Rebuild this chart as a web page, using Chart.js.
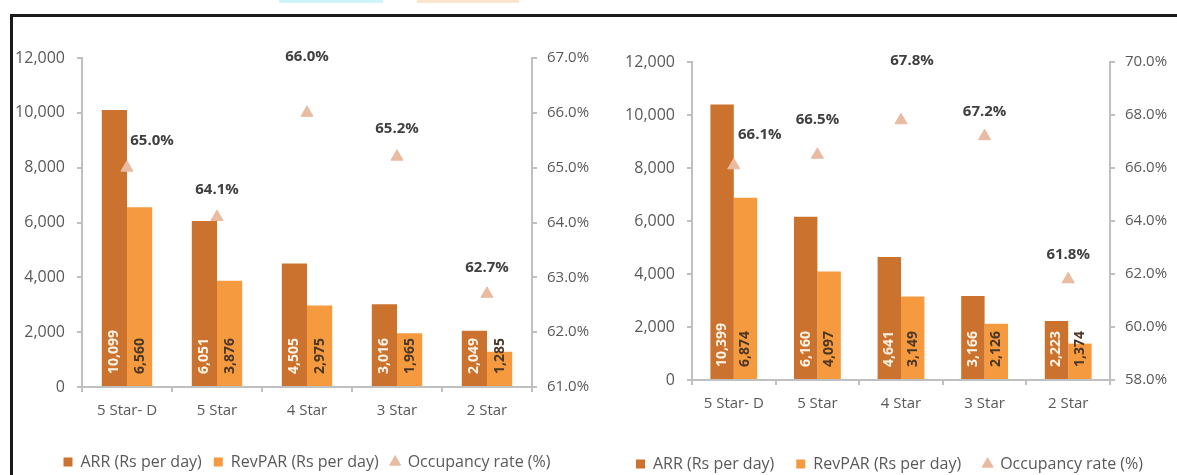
<!DOCTYPE html>
<html>
<head>
<meta charset="utf-8">
<script src="https://cdn.jsdelivr.net/npm/chart.js@4"></script>
<style>
  html, body { margin: 0; padding: 0; background: #fff; overflow: hidden; }
  body { width: 1177px; height: 475px; position: relative; }
  #frame { position: absolute; left: 10px; top: 14px; width: 1170px; height: 470px;
           border-top: 3px solid #1a1a1a; border-left: 3px solid #1a1a1a; }
  .strip { position: absolute; top: 0; height: 3px; }
  canvas { position: absolute; }
</style>
</head>
<body>
<div class="strip" style="left:279px;width:104px;background:#cff5fb"></div>
<div class="strip" style="left:417px;width:102px;background:#fde4cd"></div>
<div id="frame"></div>
<canvas id="left_chart" width="590" height="470" style="left:12px;top:18px"></canvas>
<canvas id="right_chart" width="575" height="470" style="left:602px;top:18px"></canvas>
<script>
// data
var categories = ['5 Star- D', '5 Star', '4 Star', '3 Star', '2 Star'];

var leftArr = [10099, 6051, 4505, 3016, 2049];
var leftRevpar = [6560, 3876, 2975, 1965, 1285];
var leftOcc = [65.0, 64.1, 66.0, 65.2, 62.7];

var rightArr = [10399, 6160, 4641, 3166, 2223];
var rightRevpar = [6874, 4097, 3149, 2126, 1374];
var rightOcc = [66.1, 66.5, 67.8, 67.2, 61.8];

var leftPctAxis = {min: 61, max: 67, step: 1};
var rightPctAxis = {min: 58, max: 70, step: 2};

var seriesNames = ['ARR (Rs per day)', 'RevPAR (Rs per day)', 'Occupancy rate (%)'];

Chart.defaults.font.family = "'Open Sans', sans-serif";
Chart.defaults.color = '#595959';

var arrColor = '#cb732e';
var revColor = '#f59a3f';
var occColor = '#e9bca2';
var axisColor = '#c0c0c0';

// value labels written upwards inside the bars, and % labels over the triangles
var labelPlugin = {
    id: 'labels',
    afterDatasetsDraw: function (chart, args, opts) {
        var ctx = chart.ctx;
        ctx.save();
        ctx.font = 'bold 14px "Open Sans", sans-serif';
        ctx.textBaseline = 'middle';
        ctx.textAlign = 'left';
        [0, 1].forEach(function (di) {
            var meta = chart.getDatasetMeta(di);
            var vals = chart.data.datasets[di].data;
            ctx.fillStyle = di === 0 ? '#fdf3e6' : '#4a3726';
            meta.data.forEach(function (el, i) {
                ctx.save();
                ctx.translate(el.x, el.base - 12);
                ctx.rotate(-Math.PI / 2);
                ctx.fillText(vals[i].toLocaleString('en-US'), 0, 0);
                ctx.restore();
            });
        });
        var occ = chart.getDatasetMeta(2);
        var ov = chart.data.datasets[2].data;
        ctx.font = 'bold 15px "Open Sans", sans-serif';
        ctx.fillStyle = '#404040';
        ctx.textAlign = 'center';
        occ.data.forEach(function (el, i) {
            var off = opts.offsets[i];
            ctx.fillText(ov[i].toFixed(1) + '%', el.x + off[0], el.y + off[1]);
        });
        ctx.restore();
    }
};

function makeChart(id, arr, rev, occ, pct, box) {
    var ctx = document.getElementById(id).getContext('2d');
    return new Chart(ctx, {
        type: 'bar',
        data: {
            labels: categories,
            datasets: [{
                label: seriesNames[0],
                data: arr,
                backgroundColor: arrColor,
                pointStyle: 'rect',
                categoryPercentage: 0.56,
                barPercentage: 1.0,
                yAxisID: 'y'
            }, {
                label: seriesNames[1],
                data: rev,
                backgroundColor: revColor,
                pointStyle: 'rect',
                categoryPercentage: 0.56,
                barPercentage: 1.0,
                yAxisID: 'y'
            }, {
                type: 'line',
                label: seriesNames[2],
                data: occ,
                showLine: false,
                pointStyle: 'triangle',
                pointRadius: 7,
                pointBackgroundColor: occColor,
                pointBorderColor: occColor,
                backgroundColor: occColor,
                borderColor: occColor,
                order: -1,
                yAxisID: 'y1'
            }]
        },
        options: {
            responsive: false,
            animation: false,
            layout: {padding: {top: box.top, left: 0, right: 0, bottom: box.bottom}},
            plugins: {
                tooltip: {enabled: false},
                legend: {
                    position: 'bottom',
                    labels: {
                        usePointStyle: true,
                        boxWidth: 9,
                        boxHeight: 9,
                        padding: box.legendPad,
                        font: {size: 16},
                        color: '#595959',
                        sort: function (a, b) { return a.datasetIndex - b.datasetIndex; }
                    }
                },
                labels: {offsets: box.offsets}
            },
            scales: {
                x: {
                    offset: true,
                    grid: {offset: true, drawOnChartArea: false, tickLength: 5, color: axisColor, lineWidth: 2},
                    border: {color: axisColor, width: 2},
                    ticks: {padding: 10, font: {size: 15}, color: '#595959'},
                    afterFit: function (s) { s.height = box.xHeight; }
                },
                y: {
                    position: 'left',
                    min: 0, max: 12000,
                    grid: {drawOnChartArea: false, tickLength: 5, color: axisColor, lineWidth: 2},
                    border: {color: axisColor, width: 2},
                    ticks: {
                        stepSize: 2000, padding: 12, font: {size: 16}, color: '#595959',
                        callback: function (v) { return v.toLocaleString('en-US'); }
                    },
                    afterFit: function (s) { s.width = box.leftW; }
                },
                y1: {
                    position: 'right',
                    min: pct.min, max: pct.max,
                    grid: {drawOnChartArea: false, tickLength: 5, color: axisColor, lineWidth: 2},
                    border: {color: axisColor, width: 2},
                    ticks: {
                        stepSize: pct.step, padding: 10, font: {size: 15}, color: '#595959',
                        callback: function (v) { return v.toFixed(1) + '%'; }
                    },
                    afterFit: function (s) { s.width = box.rightW; }
                }
            }
        },
        plugins: [labelPlugin]
    });
}

var leftChart = makeChart('left_chart', leftArr, leftRevpar, leftOcc, leftPctAxis, {
    top: 40, bottom: 8, leftW: 70, rightW: 70, xHeight: 55, legendPad: 12,
    offsets: [[25, -27], [0, -27], [0, -56], [0, -28], [0, -26]]
});

var rightChart = makeChart('right_chart', rightArr, rightRevpar, rightOcc, rightPctAxis, {
    top: 44, bottom: 6, leftW: 90, rightW: 67, xHeight: 54, legendPad: 22,
    offsets: [[26, -31], [0, -35], [11, -60], [0, -24], [0, -25]]
});
</script>
</body>
</html>
